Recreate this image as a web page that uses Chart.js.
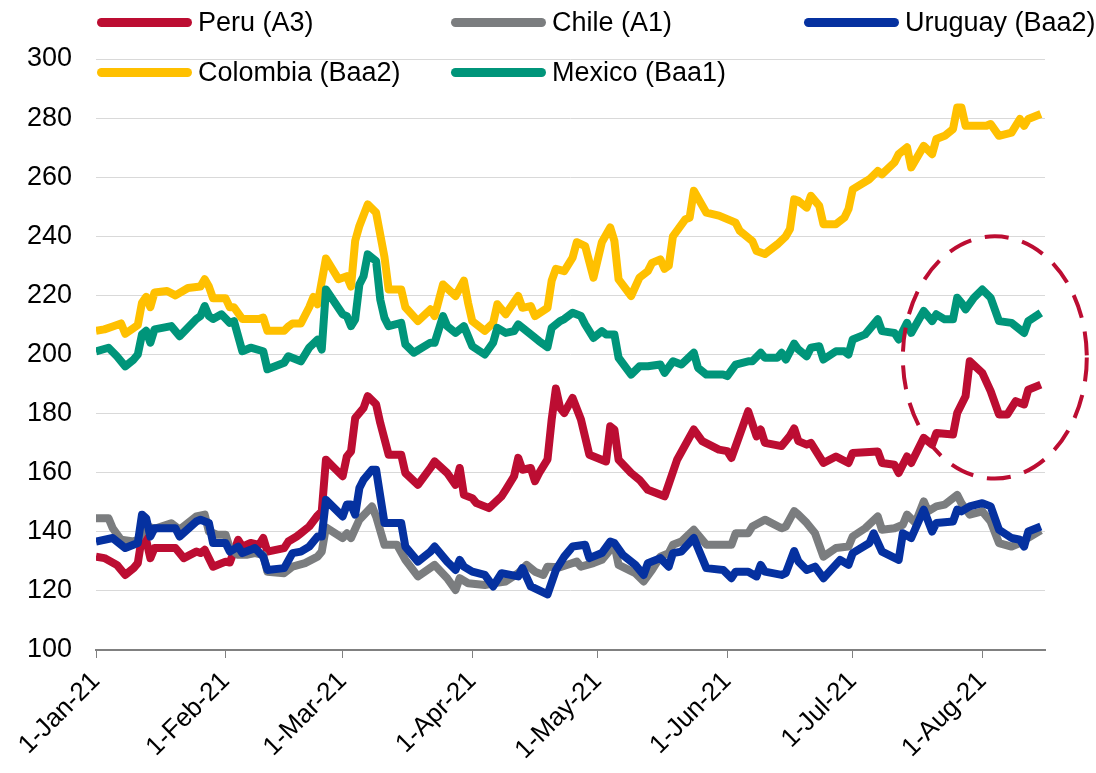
<!DOCTYPE html>
<html>
<head>
<meta charset="utf-8">
<title>Sovereign spreads</title>
<script src="https://cdn.jsdelivr.net/npm/chart.js@4.4.1/dist/chart.umd.min.js"></script>
<style>
  body { margin: 0; background: #fff; }
  #wrap { position: relative; width: 1096px; height: 773px; }
  #chart { position: absolute; left: 0; top: 0; }
  .legend-item {
    position: absolute;
    display: flex;
    align-items: center;
    height: 32px;
    font-family: 'Liberation Sans', Arial, sans-serif;
    font-size: 27px;
    color: #000;
    white-space: nowrap;
  }
  .legend-line {
    display: inline-block;
    width: 95px;
    height: 9px;
    border-radius: 5px;
    margin-right: 6px;
  }
</style>
</head>
<body>
<div id="wrap">
  <canvas id="chart" width="1096" height="773"></canvas>
  <div id="legend"></div>
</div>
<script>
// Days counted from 1-Jan-21
const tickDays = [0, 31, 59, 90, 120, 151, 181, 212];
const tickLabels = ['1-Jan-21', '1-Feb-21', '1-Mar-21', '1-Apr-21', '1-May-21', '1-Jun-21', '1-Jul-21', '1-Aug-21'];

const seriesNames = ['Peru (A3)', 'Chile (A1)', 'Uruguay (Baa2)', 'Colombia (Baa2)', 'Mexico (Baa1)'];

const peruDays = [0, 2, 5, 7, 9, 10, 11, 12, 13, 14, 19, 21, 24, 25, 26, 28, 31, 32, 34, 35, 37, 39, 40, 41, 45, 46, 48, 49, 51, 53, 54, 55, 57, 59, 60, 61, 62, 64, 65, 67, 68, 70, 73, 74, 77, 80, 81, 84, 86, 87, 88, 90, 91, 94, 97, 98, 100, 101, 102, 104, 105, 106, 108, 109, 110, 111, 112, 114, 116, 118, 122, 123, 124, 125, 128, 130, 132, 136, 139, 143, 145, 149, 151, 152, 156, 158, 159, 160, 164, 166, 167, 168, 170, 171, 174, 177, 180, 181, 187, 188, 191, 192, 194, 195, 198, 200, 201, 205, 206, 208, 209, 212, 214, 216, 218, 220, 222, 223, 226];
const peruValues = [131.6, 131.1, 128.8, 125.4, 127.7, 129.4, 138.4, 137.3, 131.1, 134.5, 134.5, 131.1, 133.3, 132.8, 133.9, 128.2, 129.9, 129.6, 137.3, 135, 136.2, 135.6, 137.9, 133.3, 134.5, 136.7, 138.4, 139.5, 141.8, 145.5, 146.9, 164.4, 161.6, 158.8, 165.5, 167.2, 178.5, 181.9, 185.9, 183.1, 176.8, 166.1, 166.1, 159.9, 155.9, 161.6, 163.8, 159.9, 155.9, 161.6, 152.5, 151.4, 149.7, 148, 152, 154.2, 158.8, 165, 161, 161.6, 157.1, 159.9, 164.5, 178, 188.5, 182, 180.2, 185.3, 178, 166.1, 163.8, 175.7, 174.6, 164.4, 159.9, 157.6, 154.2, 152, 164.4, 174.6, 170.7, 167.8, 167.3, 165, 180.8, 172.3, 174.6, 170.1, 169, 172.5, 175, 170.7, 169.5, 170.1, 163.3, 165.5, 163.3, 166.7, 167.2, 163.3, 162.7, 159.9, 165.5, 163.3, 171.8, 169.5, 173.4, 172.9, 180.2, 185.9, 197.7, 193.8, 187.6, 179.7, 179.7, 184.2, 183.1, 188.1, 189.8];

const chileDays = [0, 3, 4, 6, 9, 10, 12, 14, 18, 20, 24, 26, 27, 29, 31, 32, 34, 36, 38, 40, 41, 45, 47, 50, 53, 54, 55, 59, 60, 61, 63, 66, 67, 69, 72, 74, 77, 81, 84, 86, 87, 89, 93, 95, 98, 101, 103, 105, 107, 108, 111, 115, 116, 119, 121, 124, 125, 129, 131, 133, 135, 137, 138, 140, 143, 146, 152, 153, 156, 157, 160, 164, 165, 167, 168, 170, 172, 174, 177, 180, 181, 184, 187, 188, 191, 193, 194, 196, 198, 199, 201, 203, 206, 207, 209, 212, 214, 216, 219, 221, 223, 226];
const chileValues = [144.6, 144.6, 141.2, 137.3, 136.7, 137.3, 142, 141, 142.9, 140.7, 145.2, 145.8, 140.1, 139, 139, 134.5, 132.2, 132.2, 132.8, 132.2, 126.5, 126, 128.2, 129.4, 131.6, 133.3, 141.5, 137.9, 139.5, 137.9, 144.1, 148.6, 145.2, 135.6, 135.6, 130.5, 124.9, 128.8, 124.3, 120.3, 124.3, 122.6, 122, 122.6, 123.2, 126, 128.8, 126.5, 125.4, 128.2, 128, 129.9, 128.2, 129.4, 130.5, 135.6, 128.8, 126, 123.2, 127.1, 131.6, 132.8, 135.6, 136.7, 140.7, 135.6, 135.6, 139.5, 139.5, 141.8, 144.1, 141.2, 141.8, 147, 145.8, 143, 139.5, 131.6, 134.5, 135, 138.4, 141.2, 145.2, 140.7, 141.2, 142.4, 145.8, 143, 150.3, 146.9, 148.6, 149.2, 152.5, 149.7, 145.8, 146.9, 143.5, 136.2, 135, 136.2, 138, 140.5];

const uruguayDays = [0, 4, 7, 10, 11, 12, 13, 14, 19, 20, 24, 25, 27, 28, 31, 32, 34, 35, 37, 38, 40, 41, 45, 47, 49, 51, 53, 54, 55, 59, 60, 61, 62, 63, 64, 66, 67, 68, 69, 73, 74, 77, 80, 81, 84, 86, 87, 88, 90, 93, 95, 97, 101, 102, 104, 108, 110, 112, 114, 117, 118, 121, 123, 124, 126, 129, 131, 132, 135, 137, 138, 140, 143, 146, 150, 152, 153, 156, 158, 159, 160, 164, 165, 167, 168, 170, 172, 174, 178, 180, 181, 185, 186, 188, 192, 193, 195, 198, 200, 201, 205, 206, 207, 209, 212, 214, 216, 219, 221, 222, 223, 226];
const uruguayValues = [136.7, 137.9, 134.5, 136.2, 145.8, 144.6, 138.4, 141.2, 141.2, 138.4, 143.5, 144.1, 143, 136.2, 136.2, 133.3, 135, 132.8, 133.9, 134.5, 131.6, 127.1, 127.7, 132.8, 133.3, 135, 138.4, 138.4, 150.8, 145.2, 149.2, 149.2, 145.8, 154.8, 157.6, 161, 161, 152, 143, 143, 135, 129.9, 133.3, 135, 129.9, 127.1, 130.5, 128.2, 126.5, 125.4, 121.5, 126, 124.9, 127.7, 121.5, 118.8, 127, 131.6, 135, 135.6, 131.1, 132.8, 136.7, 136.2, 132.2, 128.8, 125.4, 129.4, 131.1, 128.2, 132.8, 133.3, 137.9, 127.7, 127.1, 124.3, 126.5, 126.5, 124.9, 128.8, 126.5, 125.4, 126, 133.5, 130, 127.1, 128.2, 124.3, 130.5, 128.8, 132.8, 136.2, 139.5, 133.3, 130.5, 139.5, 137.9, 147.5, 140.1, 143, 143.5, 147.5, 146.9, 148.6, 149.7, 148.6, 140.7, 137.9, 137.3, 135, 140.1, 141.8];

const colombiaDays = [0, 2, 4, 6, 7, 9, 10, 11, 12, 13, 14, 17, 19, 22, 25, 26, 27, 28, 31, 32, 33, 35, 39, 40, 41, 45, 46, 47, 49, 51, 52, 53, 55, 58, 60, 61, 62, 63, 65, 67, 69, 70, 73, 74, 77, 80, 81, 83, 86, 88, 89, 90, 93, 95, 96, 98, 101, 102, 104, 105, 108, 109, 110, 112, 114, 115, 117, 119, 121, 123, 124, 125, 128, 130, 132, 133, 135, 136, 137, 138, 141, 142, 143, 146, 149, 152, 153, 154, 157, 158, 160, 163, 165, 166, 167, 168, 170, 171, 173, 174, 177, 179, 180, 181, 185, 187, 188, 191, 192, 194, 195, 198, 200, 201, 203, 205, 206, 207, 208, 213, 214, 216, 219, 221, 222, 223, 226];
const colombiaValues = [208, 208.5, 209.5, 210.5, 207, 209, 210, 217.5, 219.5, 216, 221, 221.5, 220, 222.5, 223, 225.5, 223, 219, 219, 216, 216, 212, 212, 212.5, 208, 208, 209.5, 210.5, 210.5, 216, 219.5, 217, 232.5, 225.5, 226.5, 223, 238.5, 243.5, 250.8, 248, 233, 222, 222, 216, 211.3, 215.3, 213, 223.7, 219.8, 225, 217.5, 211.3, 208, 210.7, 217, 213.6, 219.8, 215.8, 216.4, 213, 215.8, 225, 229, 228.2, 232.8, 238, 236.7, 226, 238, 243, 238.4, 225.4, 219.8, 226, 228.2, 231, 232.2, 229, 230, 240, 245.8, 246.3, 255.4, 248, 247, 245.2, 244.6, 241.8, 238.4, 235, 234, 237.3, 240, 242.5, 252.5, 252, 249.7, 253.7, 250.3, 244.1, 244.1, 246.3, 249.2, 255.9, 259.3, 262.1, 261, 265, 267.8, 270.1, 263.3, 270.6, 267.8, 272.9, 274, 276.3, 283.6, 283.6, 277.4, 277.4, 278, 274, 275.1, 279.7, 277.4, 279.7, 281.4];

const mexicoDays = [0, 3, 5, 7, 9, 10, 11, 12, 13, 14, 18, 20, 24, 25, 26, 27, 28, 30, 32, 33, 35, 37, 40, 41, 45, 46, 49, 51, 53, 54, 55, 59, 60, 61, 62, 63, 64, 65, 67, 68, 69, 70, 73, 74, 76, 80, 81, 83, 84, 86, 88, 90, 93, 95, 96, 98, 100, 101, 104, 106, 108, 109, 111, 112, 114, 116, 117, 119, 121, 122, 124, 125, 128, 130, 132, 135, 136, 138, 140, 143, 144, 146, 150, 151, 153, 156, 157, 159, 160, 163, 164, 165, 167, 168, 170, 171, 173, 174, 177, 179, 180, 181, 184, 187, 188, 191, 192, 194, 195, 198, 200, 201, 203, 205, 206, 207, 208, 210, 212, 214, 216, 219, 222, 223, 226];
const mexicoValues = [201, 202.3, 199.4, 196, 198.3, 200, 206.8, 208, 204, 208.5, 209.6, 206.2, 212, 213, 216.4, 213, 212, 213.6, 210.7, 211.3, 201.1, 202.3, 201.1, 195, 197.2, 199.4, 197.7, 202.3, 205, 201.7, 222, 213.6, 213, 209.6, 211.9, 223.7, 226.5, 233.9, 231.6, 218.6, 212.4, 209.6, 210.7, 203.4, 200.6, 204, 204, 213, 209.6, 207.3, 209.6, 202.8, 200, 204, 209, 207.3, 207.9, 210.2, 206.8, 204.5, 202.5, 209, 211.3, 212, 214.1, 213, 210.2, 205.6, 207.9, 206.8, 206.8, 198.9, 193.2, 196, 196, 196.6, 193.8, 197.7, 196.6, 200.6, 195.5, 193.2, 193.2, 192.7, 196.6, 197.7, 197.7, 200.6, 198.9, 198.9, 200.6, 198.3, 203.7, 201.7, 199.4, 202.3, 202.8, 198.3, 201.1, 201.1, 200, 205.1, 206.8, 211.9, 207.9, 207.3, 205.1, 210.7, 207.3, 214.7, 211.3, 213.6, 211.9, 211.9, 219.2, 217.5, 215.3, 219.2, 222, 219.2, 211.3, 210.7, 207.3, 211.3, 214.1];

// Dashed circle around the August move (data coordinates)
const highlight = { day: 215, value: 199, dayRadius: 22, valueRadius: 41 };

const colors = ['#BC0D32', '#7B7D7F', '#0531A0', '#FFC000', '#00957A'];
const fontFamily = "'Liberation Sans', Arial, sans-serif";

const seriesDays = [peruDays, chileDays, uruguayDays, colombiaDays, mexicoDays];
const seriesValues = [peruValues, chileValues, uruguayValues, colombiaValues, mexicoValues];

const datasets = seriesNames.map((name, i) => ({
    label: name,
    data: seriesDays[i].map((d, j) => ({ x: d, y: seriesValues[i][j] })),
    borderColor: colors[i],
    backgroundColor: colors[i],
    order: seriesNames.length - i
}));

// Build the legend (two rows, three columns)
const legendEl = document.getElementById('legend');
const legendCols = [97, 451, 804];
const legendRows = [22, 72.5];
seriesNames.forEach((name, i) => {
    const item = document.createElement('div');
    item.className = 'legend-item';
    item.style.left = legendCols[i % 3] + 'px';
    item.style.top = (legendRows[Math.floor(i / 3)] - 16) + 'px';
    item.innerHTML = `<span class="legend-line" style="background:${colors[i]}"></span><span>${name}</span>`;
    legendEl.appendChild(item);
});

const ellipsePlugin = {
    id: 'highlightEllipse',
    afterDatasetsDraw(chart) {
        const { ctx, scales: { x, y } } = chart;
        const cx = x.getPixelForValue(highlight.day);
        const cy = y.getPixelForValue(highlight.value);
        const rx = x.getPixelForValue(highlight.day + highlight.dayRadius) - cx;
        const ry = cy - y.getPixelForValue(highlight.value + highlight.valueRadius);
        ctx.save();
        ctx.beginPath();
        ctx.ellipse(cx, cy, rx, ry, 0, 0, Math.PI * 2);
        ctx.setLineDash([24, 14]);
        ctx.lineWidth = 4;
        ctx.strokeStyle = colors[0];
        ctx.stroke();
        ctx.restore();
    }
};

const ctx = document.getElementById('chart').getContext('2d');
new Chart(ctx, {
    type: 'line',
    data: { datasets },
    options: {
        responsive: false,
        animation: false,
        devicePixelRatio: 1,
        parsing: false,
        layout: { padding: { top: 59, right: 51, left: 0, bottom: 0 } },
        plugins: {
            legend: { display: false },
            tooltip: { enabled: false }
        },
        elements: {
            point: { radius: 0 },
            line: { borderWidth: 8, tension: 0, borderJoinStyle: 'round' }
        },
        scales: {
            x: {
                type: 'linear',
                min: 0,
                max: 227,
                afterBuildTicks: (scale) => {
                    scale.ticks = tickDays.map(v => ({ value: v }));
                },
                afterFit: (scale) => { scale.height = 123; },
                grid: { drawOnChartArea: false, drawTicks: true, tickLength: 8, color: '#808080', lineWidth: 1 },
                border: { display: true, color: '#808080', width: 2 },
                ticks: {
                    autoSkip: false,
                    minRotation: 45,
                    maxRotation: 45,
                    padding: 8,
                    color: '#000',
                    font: { family: fontFamily, size: 26 },
                    callback: (value) => {
                        const k = tickDays.indexOf(value);
                        return k >= 0 ? tickLabels[k] : '';
                    }
                }
            },
            y: {
                min: 100,
                max: 300,
                afterFit: (scale) => { scale.width = 96; },
                grid: { color: '#d9d9d9', lineWidth: 1, drawTicks: false },
                border: { display: false },
                ticks: {
                    stepSize: 20,
                    padding: 24,
                    color: '#000',
                    font: { family: fontFamily, size: 27 }
                }
            }
        }
    },
    plugins: [ellipsePlugin]
});
</script>
</body>
</html>
